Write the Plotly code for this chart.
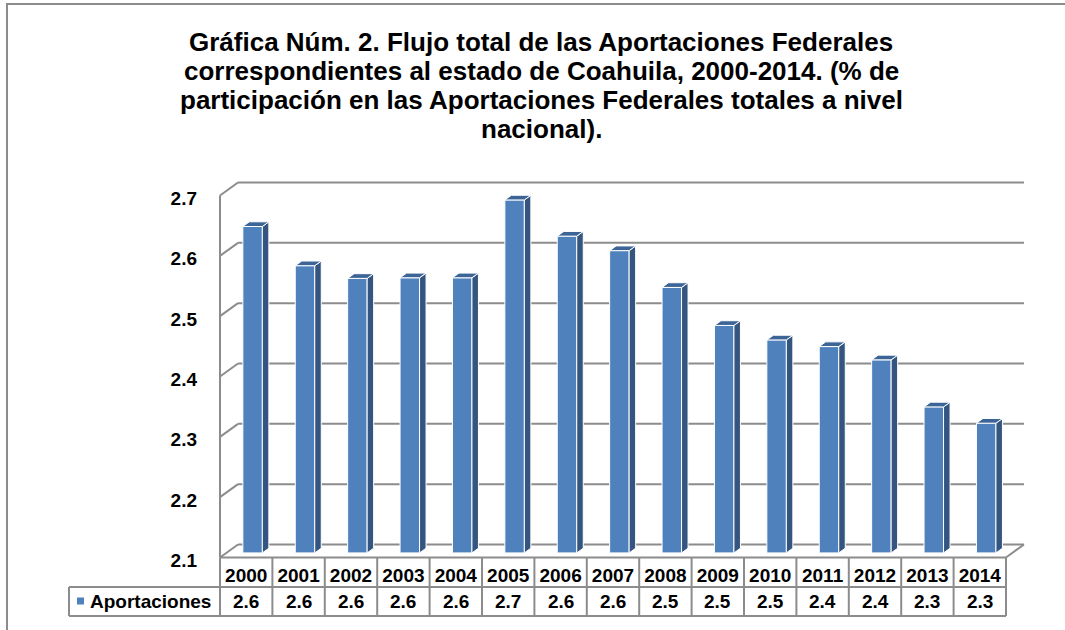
import plotly.graph_objects as go

# Federal contributions to Coahuila, share of national total (%)
years = ["2000", "2001", "2002", "2003", "2004", "2005", "2006", "2007",
         "2008", "2009", "2010", "2011", "2012", "2013", "2014"]
aportaciones = [2.641, 2.576, 2.555, 2.556, 2.556, 2.685, 2.625, 2.601,
                2.540, 2.477, 2.453, 2.442, 2.420, 2.342, 2.315]
y_ticks = [2.1, 2.2, 2.3, 2.4, 2.5, 2.6, 2.7]
series_name = "Aportaciones"
title_lines = [
    "Gráfica Núm. 2. Flujo total de las Aportaciones Federales",
    "correspondientes al estado de Coahuila, 2000-2014. (% de",
    "participación en las Aportaciones Federales totales a nivel",
    "nacional).",
]

# ---- canvas / projection settings ----
W, H = 1065, 630
COL = 52.4            # pixels per category
PPU = 603.33          # pixels per value unit
LEFT_PX = 220         # pixel x of the front-left corner of the floor
BASE_PX = 557.5       # pixel y of the floor front edge
YMIN = y_ticks[0]


def xd(px):
    return (px - LEFT_PX) / COL


def yd(py):
    return YMIN + (BASE_PX - py) / PPU


N = len(years)
DX, DY = 18 / COL, 13 / PPU           # full depth of the 3-D box
FDX, FDY = 6.4 / COL, 4.6 / PPU       # front face of the columns
BDX, BDY = 6.5 / COL, 4.7 / PPU       # depth of each column
BW = 19.5 / COL                       # column width

GRID = "#8c8c8c"
FRONT = "#4f81bd"
SIDE = "#33557f"
TOP = "#3c6496"
FONT = "Liberation Sans, Arial, sans-serif"

fig = go.Figure()

# front faces of the columns
centers = [i + 0.5 + FDX for i in range(N)]
fig.add_trace(go.Bar(
    x=centers,
    y=[v - YMIN for v in aportaciones],
    base=[YMIN + FDY] * N,
    width=BW,
    marker=dict(color=FRONT, line=dict(color="white", width=1)),
    name=series_name,
    showlegend=False,
))

# side and top faces of the columns
side_x, side_y, top_x, top_y = [], [], [], []
for c, v in zip(centers, aportaciones):
    xl, xr = c - BW / 2, c + BW / 2
    b, t = YMIN + FDY, v + FDY
    side_x += [xr, xr, xr + BDX, xr + BDX, xr, None]
    side_y += [b, t, t + BDY, b + BDY, b, None]
    top_x += [xl, xr, xr + BDX, xl + BDX, xl, None]
    top_y += [t, t, t + BDY, t + BDY, t, None]
fig.add_trace(go.Scatter(x=side_x, y=side_y, mode="lines", fill="toself",
                         fillcolor=SIDE, line=dict(color="white", width=1),
                         hoverinfo="skip", showlegend=False))
fig.add_trace(go.Scatter(x=top_x, y=top_y, mode="lines", fill="toself",
                         fillcolor=TOP, line=dict(color="white", width=1),
                         hoverinfo="skip", showlegend=False))

shapes = []


def seg(x0, y0, x1, y1, layer="below"):
    shapes.append(dict(type="line", xref="x", yref="y", x0=x0, y0=y0,
                       x1=x1, y1=y1, layer=layer,
                       line=dict(color=GRID, width=2)))


# back-wall gridlines and left-wall ticks
for v in y_ticks:
    seg(DX, v + DY, N + DX, v + DY)
    seg(0, v, DX, v + DY)
seg(0, y_ticks[0], 0, y_ticks[-1])
# floor
seg(0, YMIN, N, YMIN)
seg(N, YMIN, N + DX, YMIN + DY)

# data table grid
row1, row2 = yd(587), yd(616)
leg_left = xd(69)
for k in range(N + 1):
    seg(k, YMIN, k, row2, layer="above")
seg(leg_left, row1, N, row1, layer="above")
seg(leg_left, row2, N, row2, layer="above")
seg(leg_left, row1, leg_left, row2, layer="above")

# legend key in the table
shapes.append(dict(type="rect", xref="x", yref="y",
                   x0=xd(77), x1=xd(84), y0=yd(604.5), y1=yd(597.5),
                   fillcolor=FRONT, line=dict(width=0)))

# outer chart border
shapes.append(dict(type="path", xref="paper", yref="paper",
                   path=f"M {7 / W} 0 L {7 / W} {1 - 4 / H} L 1.01 {1 - 4 / H}",
                   line=dict(color=GRID, width=2)))

annotations = []
# values row
for i, v in enumerate(aportaciones):
    annotations.append(dict(x=i + 0.5, y=yd(601.5), xref="x", yref="y",
                            text=f"<b>{v:.1f}</b>", showarrow=False,
                            font=dict(family=FONT, size=19, color="black")))
annotations.append(dict(x=xd(88), y=yd(601.5), xref="x", yref="y",
                        text=f"<b>{series_name}</b>", showarrow=False,
                        xanchor="left",
                        font=dict(family=FONT, size=19, color="black")))
# title, one line at a time
for k, line in enumerate(title_lines):
    annotations.append(dict(x=541 / W, y=1 - (42 + 29 * k) / H,
                            xref="paper", yref="paper",
                            text=f"<b>{line}</b>", showarrow=False,
                            xanchor="center", yanchor="middle",
                            font=dict(family=FONT, size=26, color="black")))

fig.update_layout(
    width=W, height=H,
    margin=dict(l=0, r=0, t=0, b=0),
    paper_bgcolor="white", plot_bgcolor="white",
    shapes=shapes, annotations=annotations,
    showlegend=False,
    xaxis=dict(range=[xd(0), xd(W)], domain=[0, 1],
               tickvals=[i + 0.5 for i in range(N)], ticktext=years,
               anchor="free", position=(H - BASE_PX) / H,
               ticks="", showgrid=False, zeroline=False, showline=False,
               ticklabelstandoff=4,
               tickfont=dict(family=FONT, size=19, color="black", weight="bold")),
    yaxis=dict(range=[yd(H), yd(0)], domain=[0, 1],
               tickvals=y_ticks, ticktext=[f"{t:.1f}" for t in y_ticks],
               anchor="free", position=LEFT_PX / W,
               ticks="", showgrid=False, zeroline=False, showline=False,
               ticklabelstandoff=23, ticklabelshift=3,
               tickfont=dict(family=FONT, size=19, color="black", weight="bold")),
)

fig.write_html("out.html")
